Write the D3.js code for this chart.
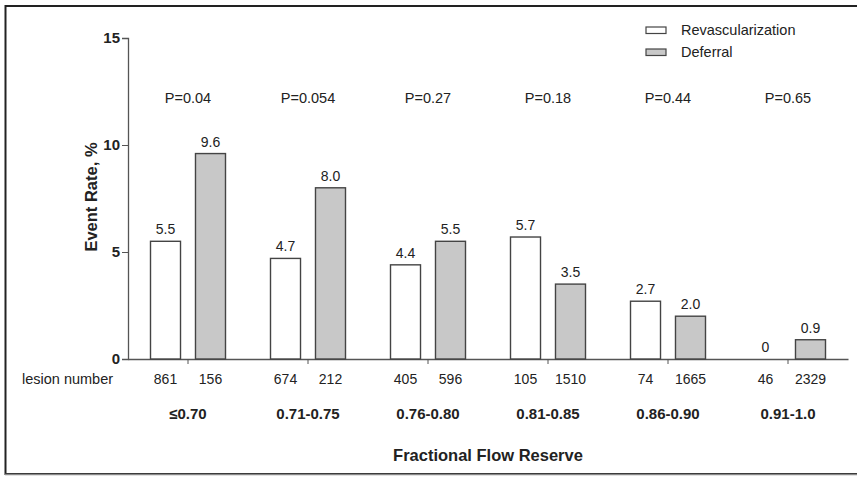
<!DOCTYPE html>
<html><head><meta charset="utf-8">
<script src="https://cdn.jsdelivr.net/npm/d3@7"></script>
<style>body{margin:0;background:#fff}svg{display:block;font-family:"Liberation Sans",Arial,sans-serif}</style>
</head><body><svg id="c" width="857" height="477"></svg>
<script>
const categories = ["≤0.70","0.71-0.75","0.76-0.80","0.81-0.85","0.86-0.90","0.91-1.0"];
const revascularization = [5.5, 4.7, 4.4, 5.7, 2.7, 0];
const deferral = [9.6, 8.0, 5.5, 3.5, 2.0, 0.9];
const lesionRevasc = [861, 674, 405, 105, 74, 46];
const lesionDefer = [156, 212, 596, 1510, 1665, 2329];
const pValues = ["P=0.04","P=0.054","P=0.27","P=0.18","P=0.44","P=0.65"];
const yTicks = [0, 5, 10, 15];
const seriesNames = ["Revascularization","Deferral"];
const seriesFill = ["#ffffff","#c8c8c8"];

const svg = d3.select("#c");
const ink = "#222";
// frame
svg.append("rect").attr("x",5.5).attr("y",6).attr("width",900).attr("height",468)
  .attr("fill","none").attr("stroke","#222").attr("stroke-width",2);
svg.append("line").attr("x1",5).attr("x2",857).attr("y1",474.5).attr("y2",474.5)
  .attr("stroke","#888").attr("stroke-width",1.5);

const x = d3.scaleBand().domain(categories).range([128, 848]).padding(0);
const inner = d3.scaleBand().domain(seriesNames).range([x.bandwidth()/2-37.5, x.bandwidth()/2+37.5]).paddingInner(0.333);
const y = d3.scaleLinear().domain([0, 15]).range([359, 38]);

// y axis
const ya = svg.append("g").attr("transform","translate(128,0)")
  .call(d3.axisLeft(y).tickValues(yTicks).tickSize(6).tickPadding(2).tickFormat(d3.format("d")));
ya.select(".domain").attr("stroke","#555").attr("stroke-width",1.3);
ya.selectAll(".tick line").attr("stroke","#555");
ya.selectAll(".tick text").attr("fill",ink).attr("font-size",15).attr("font-weight","bold").attr("font-family","Liberation Sans, Arial, sans-serif");

// x axis
const xa = svg.append("g").attr("transform","translate(0,359)")
  .call(d3.axisBottom(x).tickSize(5).tickSizeOuter(0).tickFormat(""));
xa.select(".domain").attr("stroke","#555").attr("stroke-width",1.3);
xa.selectAll(".tick line").attr("stroke","#555");

// bars
const rows = categories.map((c,i)=>({c, vals:[revascularization[i], deferral[i]], n:[lesionRevasc[i], lesionDefer[i]], p:pValues[i]}));
const g = svg.append("g").selectAll("g").data(rows).join("g")
  .attr("transform", d=>`translate(${x(d.c)},0)`);
g.selectAll("rect").data(d=>d.vals.map((v,k)=>({v,k}))).join("rect")
  .filter(d=>d.v>0)
  .attr("x", d=>inner(seriesNames[d.k])).attr("width", inner.bandwidth())
  .attr("y", d=>y(d.v)).attr("height", d=>y(0)-y(d.v))
  .attr("fill", d=>seriesFill[d.k]).attr("stroke","#444").attr("stroke-width",1.4);
g.selectAll("text.val").data(d=>d.vals.map((v,k)=>({v,k}))).join("text").attr("class","val")
  .attr("x", d=>inner(seriesNames[d.k])+inner.bandwidth()/2).attr("y", d=>y(d.v)-7)
  .attr("text-anchor","middle").attr("font-size",14).attr("fill",ink)
  .text(d=>d.v===0?"0":d3.format(".1f")(d.v));
g.selectAll("text.n").data(d=>d.n.map((v,k)=>({v,k}))).join("text").attr("class","n")
  .attr("x", d=>inner(seriesNames[d.k])+inner.bandwidth()/2).attr("y", 384)
  .attr("text-anchor","middle").attr("font-size",14).attr("fill",ink).text(d=>d.v);
g.append("text").attr("x", x.bandwidth()/2).attr("y",103).attr("text-anchor","middle")
  .attr("font-size",14.5).attr("fill",ink).text(d=>d.p);
g.append("text").attr("x", x.bandwidth()/2).attr("y",419).attr("text-anchor","middle")
  .attr("font-size",15).attr("font-weight","bold").attr("fill",ink).text(d=>d.c);

svg.append("text").attr("x",22).attr("y",384).attr("font-size",14.5).attr("fill",ink).text("lesion number");
svg.append("text").attr("x",488).attr("y",461).attr("text-anchor","middle").attr("font-size",16.5)
  .attr("font-weight","bold").attr("fill",ink).text("Fractional Flow Reserve");
svg.append("text").attr("transform","translate(97,197) rotate(-90)").attr("text-anchor","middle")
  .attr("font-size",16.5).attr("font-weight","bold").attr("fill",ink).text("Event Rate, %");

// legend
const lg = svg.append("g").selectAll("g").data(seriesNames).join("g")
  .attr("transform",(d,i)=>`translate(646,${27+i*22})`);
lg.append("rect").attr("width",20).attr("height",6.5).attr("fill",(d,i)=>seriesFill[i])
  .attr("stroke","#444").attr("stroke-width",1.2);
lg.append("text").attr("x",35).attr("y",8).attr("font-size",14.5).attr("fill",ink).text(d=>d);
</script></body></html>
